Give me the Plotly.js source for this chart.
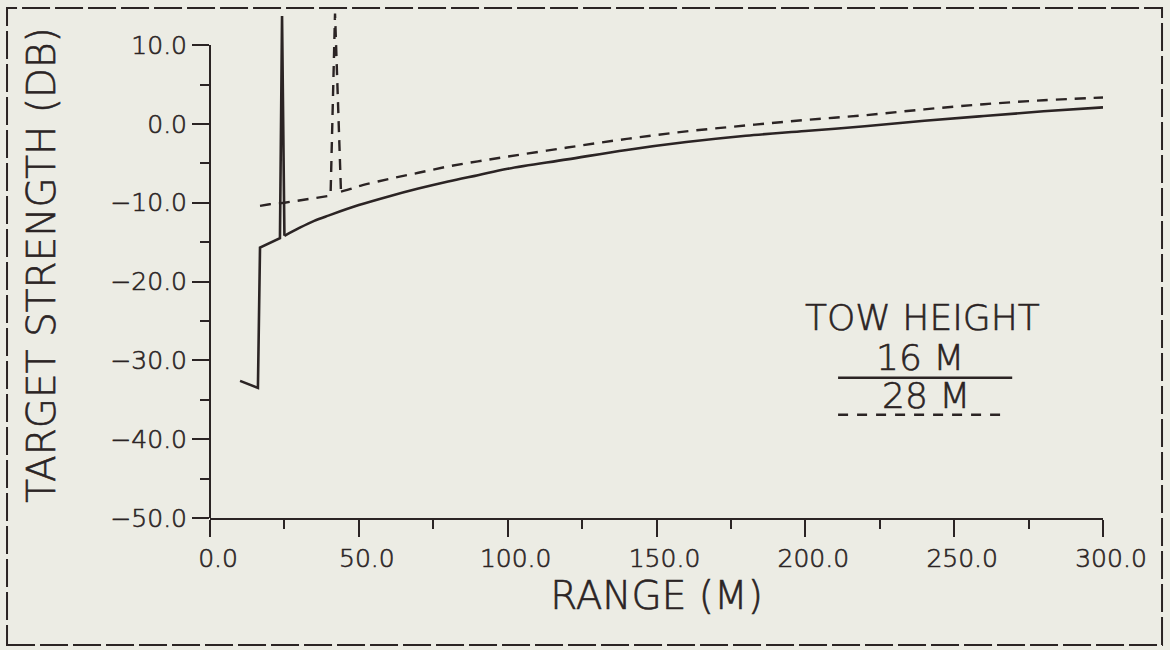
<!DOCTYPE html>
<html>
<head>
<meta charset="utf-8">
<script src="https://cdn.plot.ly/plotly-3.0.1.min.js"></script>
<style>
  html, body { margin: 0; padding: 0; background: #ecece4; }
  #chart { width: 1170px; height: 650px; }
  #chart svg text { stroke: #2b2424; stroke-width: 0.6px; }
</style>
</head>
<body>
<div id="chart"></div>
<script>
// Range (m) and target strength (dB), tow height 16 m (solid)
const range16 = [10.1, 16.1, 16.8, 23.5, 24.2, 25.0, 30, 35, 40, 50, 60, 70, 80, 90, 100, 120, 140, 160, 180, 200, 220, 240, 260, 280, 300];
const ts16    = [-32.6, -33.5, -15.7, -14.5, 13.7, -14.2, -13.2, -12.3, -11.6, -10.3, -9.2, -8.2, -7.3, -6.5, -5.7, -4.5, -3.3, -2.3, -1.5, -0.9, -0.3, 0.4, 1.0, 1.6, 2.1];

// Tow height 28 m (dashed)
const range28 = [16.8, 20, 25, 30, 35, 40.5, 42.0, 44.0, 47.7, 50, 60, 70, 80, 90, 100, 120, 140, 160, 180, 200, 220, 240, 260, 280, 300];
const ts28    = [-10.4, -10.2, -10.0, -9.7, -9.4, -9.1, 14.0, -8.6, -8.2, -7.9, -7.0, -6.2, -5.4, -4.75, -4.15, -3.0, -1.9, -0.95, -0.2, 0.5, 1.1, 1.85, 2.5, 3.0, 3.35];

// Axis ticks
const xTickVals = [0, 50, 100, 150, 200, 250, 300];
const xTickText = ["0.0", "50.0", "100.0", "150.0", "200.0", "250.0", "300.0"];
const xMinorVals = [25, 75, 125, 175, 225, 275];
const yTickVals = [-50, -40, -30, -20, -10, 0, 10];
const yTickText = ["\u221250.0", "\u221240.0", "\u221230.0", "\u221220.0", "\u221210.0", "0.0", "10.0"];
const yMinorVals = [-45, -35, -25, -15, -5, 5];

// Legend texts
const legendTitle = "TOW HEIGHT";
const seriesNames = ["16 M", "28 M"];

const ink = "#2b2424";
const bg = "#ecece4";
const fontFam = "DejaVu Sans, Liberation Sans, sans-serif";

// The jagged start of each curve is drawn straight; the smooth remainder is splined.
const cut16 = 5;   // index where the 16 m curve becomes smooth
const cut28 = 7;   // index where the 28 m curve becomes smooth

const solidLine = { color: ink, width: 2.6 };
const dashLine = { color: ink, width: 2.4, dash: "11px,8px" };

const traces = [
  { x: range16.slice(0, cut16 + 1), y: ts16.slice(0, cut16 + 1), mode: "lines", name: seriesNames[0],
    line: solidLine },
  { x: range16.slice(cut16), y: ts16.slice(cut16), mode: "lines", name: seriesNames[0],
    line: Object.assign({ shape: "spline", smoothing: 1 }, solidLine) },
  { x: range28.slice(0, cut28 + 1), y: ts28.slice(0, cut28 + 1), mode: "lines", name: seriesNames[1],
    line: dashLine },
  { x: range28.slice(cut28), y: ts28.slice(cut28), mode: "lines", name: seriesNames[1],
    line: Object.assign({ shape: "spline", smoothing: 1 }, dashLine) }
];

const tickFont = { size: 25, family: fontFam, color: ink, weight: 200 };
const titleFont = { size: 39, family: fontFam, color: ink, weight: 200 };
const legendFont = { size: 36, family: fontFam, color: ink, weight: 200 };

const layout = {
  width: 1170, height: 650,
  paper_bgcolor: bg, plot_bgcolor: bg,
  margin: { l: 210, r: 67, t: 12, b: 132 },
  showlegend: false,
  font: { family: fontFam, color: ink },
  xaxis: {
    range: [0, 300], showgrid: false, zeroline: false,
    showline: true, linecolor: ink, linewidth: 2,
    tickmode: "array", tickvals: xTickVals, ticktext: xTickText,
    ticks: "outside", ticklen: 17, tickwidth: 2, tickcolor: ink,
    tickfont: tickFont,
    ticklabelshift: 8,
    minor: { tickmode: "array", tickvals: xMinorVals, ticks: "outside", ticklen: 9, tickwidth: 2, tickcolor: ink, showgrid: false },
    title: { text: "RANGE (M)", font: titleFont, standoff: 10 }
  },
  yaxis: {
    range: [-50, 14.2], showgrid: false, zeroline: false,
    showline: false,
    tickmode: "array", tickvals: yTickVals, ticktext: yTickText,
    ticks: "outside", ticklen: 17, tickwidth: 2, tickcolor: ink,
    tickfont: tickFont,
    minor: { tickmode: "array", tickvals: yMinorVals, ticks: "outside", ticklen: 9, tickwidth: 2, tickcolor: ink, showgrid: false },
    title: { text: "TARGET STRENGTH (DB)", font: titleFont, standoff: 42 }
  },
  shapes: [
    // y axis line, ending at the 10.0 tick
    { type: "line", xref: "paper", yref: "y", x0: 0, x1: 0, y0: -50, y1: 10, line: { color: ink, width: 2 } },
    // legend sample lines
    { type: "line", xref: "x", yref: "y", x0: 211, x1: 269.5, y0: -32.2, y1: -32.2, line: { color: ink, width: 2.4 } },
    { type: "line", xref: "x", yref: "y", x0: 211, x1: 268, y0: -36.9, y1: -36.9, line: { color: ink, width: 2.4, dash: "10px,9px" } },
    // dashed frame around the figure
    { type: "rect", xref: "paper", yref: "paper", x0: -0.2273, x1: 1.0661, y0: -0.2510, y1: 1.0079,
      line: { color: ink, width: 2, dash: "28px,5px" } }
  ],
  annotations: [
    { xref: "x", yref: "y", x: 239.5, y: -24.6, text: legendTitle, showarrow: false,
      font: legendFont, xanchor: "center", yanchor: "middle" },
    { xref: "x", yref: "y", x: 238.5, y: -29.6, text: seriesNames[0], showarrow: false,
      font: legendFont, xanchor: "center", yanchor: "middle" },
    { xref: "x", yref: "y", x: 240.5, y: -34.5, text: seriesNames[1], showarrow: false,
      font: legendFont, xanchor: "center", yanchor: "middle" }
  ]
};

Plotly.newPlot("chart", traces, layout, { displayModeBar: false, staticPlot: true });
</script>
</body>
</html>
